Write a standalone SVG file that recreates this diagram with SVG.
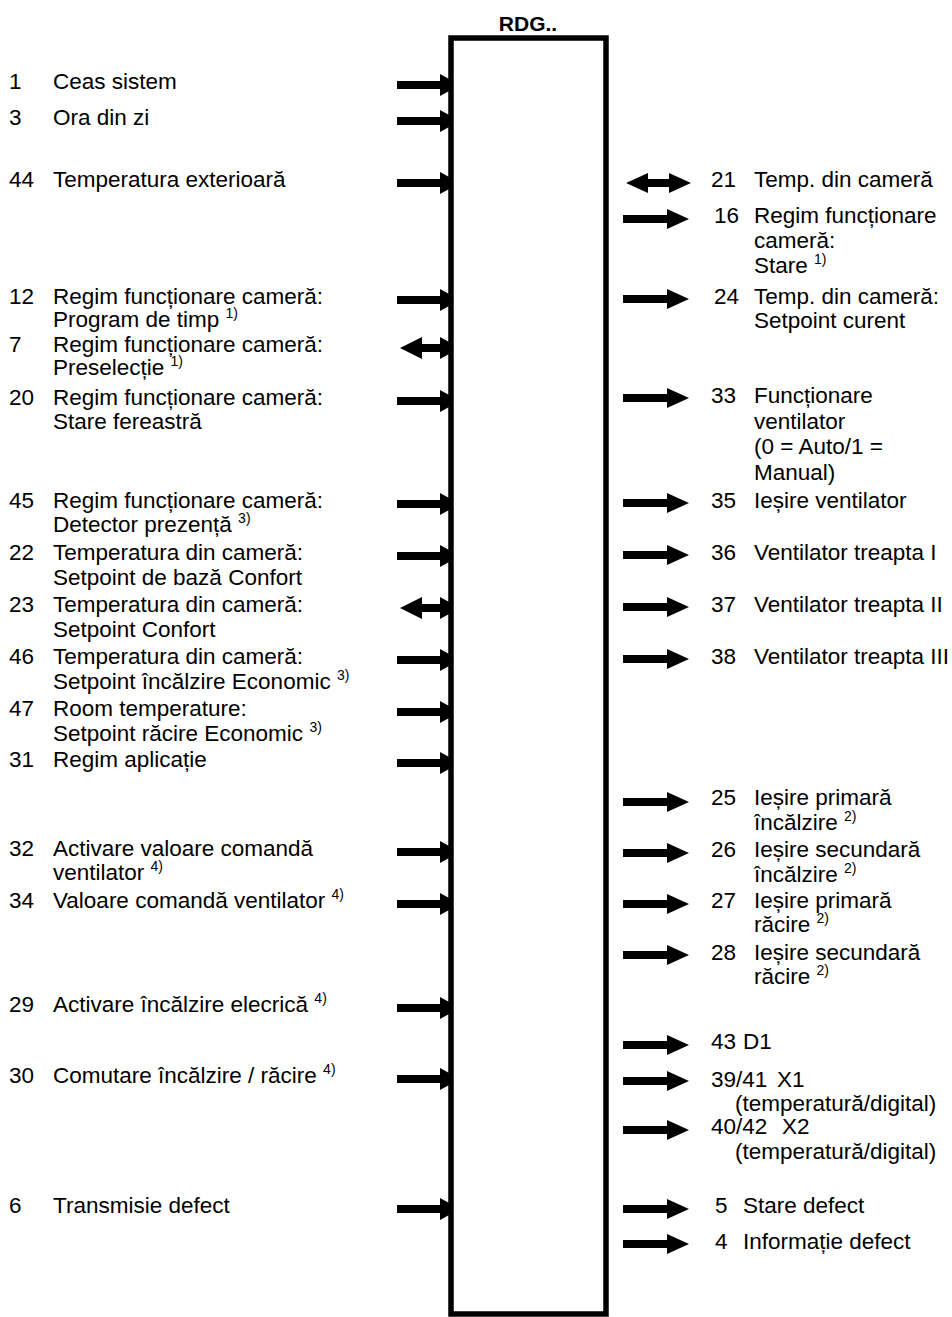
<svg xmlns="http://www.w3.org/2000/svg" width="952" height="1317" viewBox="0 0 952 1317">
<style>
text{font-family:"Liberation Sans",Arial,sans-serif;font-size:22.5px;fill:#000}
.t{font-weight:bold;font-size:21px}
.s{font-size:14px}
.box{fill:#fff;stroke:#000;stroke-width:5.5}
</style>
<defs>
<path id="aIn" d="M-54,-4H-11V-11L9,0L-11,11V4H-54Z"/>
<path id="aBiL" d="M-51,0L-29,-11V-4H-11V-11L9,0L-11,11V4H-29V11Z"/>
<path id="aOut" d="M0,-4H44V-10L66,0L44,10V4H0Z"/>
<path id="aBiR" d="M0,0L22,-10V-4H43V-10L65,0L43,10V4H22V10Z"/>
</defs>
<rect width="952" height="1317" fill="#fff"/>
<g id="connectors">
<use href="#aIn" x="451" y="85"/>
<use href="#aIn" x="451" y="121"/>
<use href="#aIn" x="451" y="183"/>
<use href="#aIn" x="451" y="300"/>
<use href="#aBiL" x="451" y="348"/>
<use href="#aIn" x="451" y="401"/>
<use href="#aIn" x="451" y="504"/>
<use href="#aIn" x="451" y="556"/>
<use href="#aBiL" x="451" y="608"/>
<use href="#aIn" x="451" y="660"/>
<use href="#aIn" x="451" y="712"/>
<use href="#aIn" x="451" y="763"/>
<use href="#aIn" x="451" y="852"/>
<use href="#aIn" x="451" y="904"/>
<use href="#aIn" x="451" y="1008"/>
<use href="#aIn" x="451" y="1079"/>
<use href="#aIn" x="451" y="1209"/>
<use href="#aBiR" x="626" y="183"/>
<use href="#aOut" x="623" y="219"/>
<use href="#aOut" x="623" y="299"/>
<use href="#aOut" x="623" y="398"/>
<use href="#aOut" x="623" y="503"/>
<use href="#aOut" x="623" y="555"/>
<use href="#aOut" x="623" y="607"/>
<use href="#aOut" x="623" y="659"/>
<use href="#aOut" x="623" y="802"/>
<use href="#aOut" x="623" y="853"/>
<use href="#aOut" x="623" y="904"/>
<use href="#aOut" x="623" y="955"/>
<use href="#aOut" x="623" y="1045"/>
<use href="#aOut" x="623" y="1081"/>
<use href="#aOut" x="623" y="1130"/>
<use href="#aOut" x="623" y="1209"/>
<use href="#aOut" x="623" y="1244"/>
</g>
<g id="rdg">
<rect class="box" x="451" y="38" width="155" height="1276"/>
<text class="t" x="528" y="31" text-anchor="middle">RDG..</text>
</g>
<g id="in1"><text x="9" y="89">1</text><text x="53" y="89">Ceas sistem</text></g>
<g id="in3"><text x="9" y="125">3</text><text x="53" y="125">Ora din zi</text></g>
<g id="in44"><text x="9" y="187">44</text><text x="53" y="187">Temperatura exterioară</text></g>
<g id="in12"><text x="9" y="304">12</text><text x="53" y="304">Regim funcționare cameră:</text><text x="53" y="327">Program de timp <tspan class="s" dy="-9">1)</tspan></text></g>
<g id="in7"><text x="9" y="352">7</text><text x="53" y="352">Regim funcționare cameră:</text><text x="53" y="375">Preselecție <tspan class="s" dy="-9">1)</tspan></text></g>
<g id="in20"><text x="9" y="405">20</text><text x="53" y="405">Regim funcționare cameră:</text><text x="53" y="429">Stare fereastră</text></g>
<g id="in45"><text x="9" y="508">45</text><text x="53" y="508">Regim funcționare cameră:</text><text x="53" y="532">Detector prezență <tspan class="s" dy="-9">3)</tspan></text></g>
<g id="in22"><text x="9" y="560">22</text><text x="53" y="560">Temperatura din cameră:</text><text x="53" y="585">Setpoint de bază Confort</text></g>
<g id="in23"><text x="9" y="612">23</text><text x="53" y="612">Temperatura din cameră:</text><text x="53" y="637">Setpoint Confort</text></g>
<g id="in46"><text x="9" y="664">46</text><text x="53" y="664">Temperatura din cameră:</text><text x="53" y="689">Setpoint încălzire Economic <tspan class="s" dy="-9">3)</tspan></text></g>
<g id="in47"><text x="9" y="716">47</text><text x="53" y="716">Room temperature:</text><text x="53" y="741">Setpoint răcire Economic <tspan class="s" dy="-9">3)</tspan></text></g>
<g id="in31"><text x="9" y="767">31</text><text x="53" y="767">Regim aplicație</text></g>
<g id="in32"><text x="9" y="856">32</text><text x="53" y="856">Activare valoare comandă</text><text x="53" y="880">ventilator <tspan class="s" dy="-9">4)</tspan></text></g>
<g id="in34"><text x="9" y="908">34</text><text x="53" y="908">Valoare comandă ventilator <tspan class="s" dy="-9">4)</tspan></text></g>
<g id="in29"><text x="9" y="1012">29</text><text x="53" y="1012">Activare încălzire elecrică <tspan class="s" dy="-9">4)</tspan></text></g>
<g id="in30"><text x="9" y="1083">30</text><text x="53" y="1083">Comutare încălzire / răcire <tspan class="s" dy="-9">4)</tspan></text></g>
<g id="in6"><text x="9" y="1213">6</text><text x="53" y="1213">Transmisie defect</text></g>
<g id="out21"><text x="711" y="187">21</text><text x="754" y="187">Temp. din cameră</text></g>
<g id="out16"><text x="714" y="223">16</text><text x="754" y="223">Regim funcționare</text><text x="754" y="248">cameră:</text><text x="754" y="273">Stare <tspan class="s" dy="-9">1)</tspan></text></g>
<g id="out24"><text x="714" y="304">24</text><text x="754" y="304">Temp. din cameră:</text><text x="754" y="328">Setpoint curent</text></g>
<g id="out33"><text x="711" y="403">33</text><text x="754" y="403">Funcționare</text><text x="754" y="429">ventilator</text><text x="754" y="454">(0 = Auto/1 =</text><text x="754" y="480">Manual)</text></g>
<g id="out35"><text x="711" y="508">35</text><text x="754" y="508">Ieșire ventilator</text></g>
<g id="out36"><text x="711" y="560">36</text><text x="754" y="560">Ventilator treapta I</text></g>
<g id="out37"><text x="711" y="612">37</text><text x="754" y="612">Ventilator treapta II</text></g>
<g id="out38"><text x="711" y="664">38</text><text x="754" y="664">Ventilator treapta III</text></g>
<g id="out25"><text x="711" y="805">25</text><text x="754" y="805">Ieșire primară</text><text x="754" y="830">încălzire <tspan class="s" dy="-9">2)</tspan></text></g>
<g id="out26"><text x="711" y="857">26</text><text x="754" y="857">Ieșire secundară</text><text x="754" y="882">încălzire <tspan class="s" dy="-9">2)</tspan></text></g>
<g id="out27"><text x="711" y="908">27</text><text x="754" y="908">Ieșire primară</text><text x="754" y="932">răcire <tspan class="s" dy="-9">2)</tspan></text></g>
<g id="out28"><text x="711" y="960">28</text><text x="754" y="960">Ieșire secundară</text><text x="754" y="984">răcire <tspan class="s" dy="-9">2)</tspan></text></g>
<g id="out43"><text x="711" y="1049">43</text><text x="743" y="1049">D1</text></g>
<g id="out39"><text x="711" y="1087">39/41</text><text x="777" y="1087">X1</text><text x="735" y="1111">(temperatură/digital)</text></g>
<g id="out40"><text x="711" y="1134">40/42</text><text x="782" y="1134">X2</text><text x="735" y="1159">(temperatură/digital)</text></g>
<g id="out5"><text x="715" y="1213">5</text><text x="743" y="1213">Stare defect</text></g>
<g id="out4"><text x="715" y="1249">4</text><text x="743" y="1249">Informație defect</text></g>
</svg>
